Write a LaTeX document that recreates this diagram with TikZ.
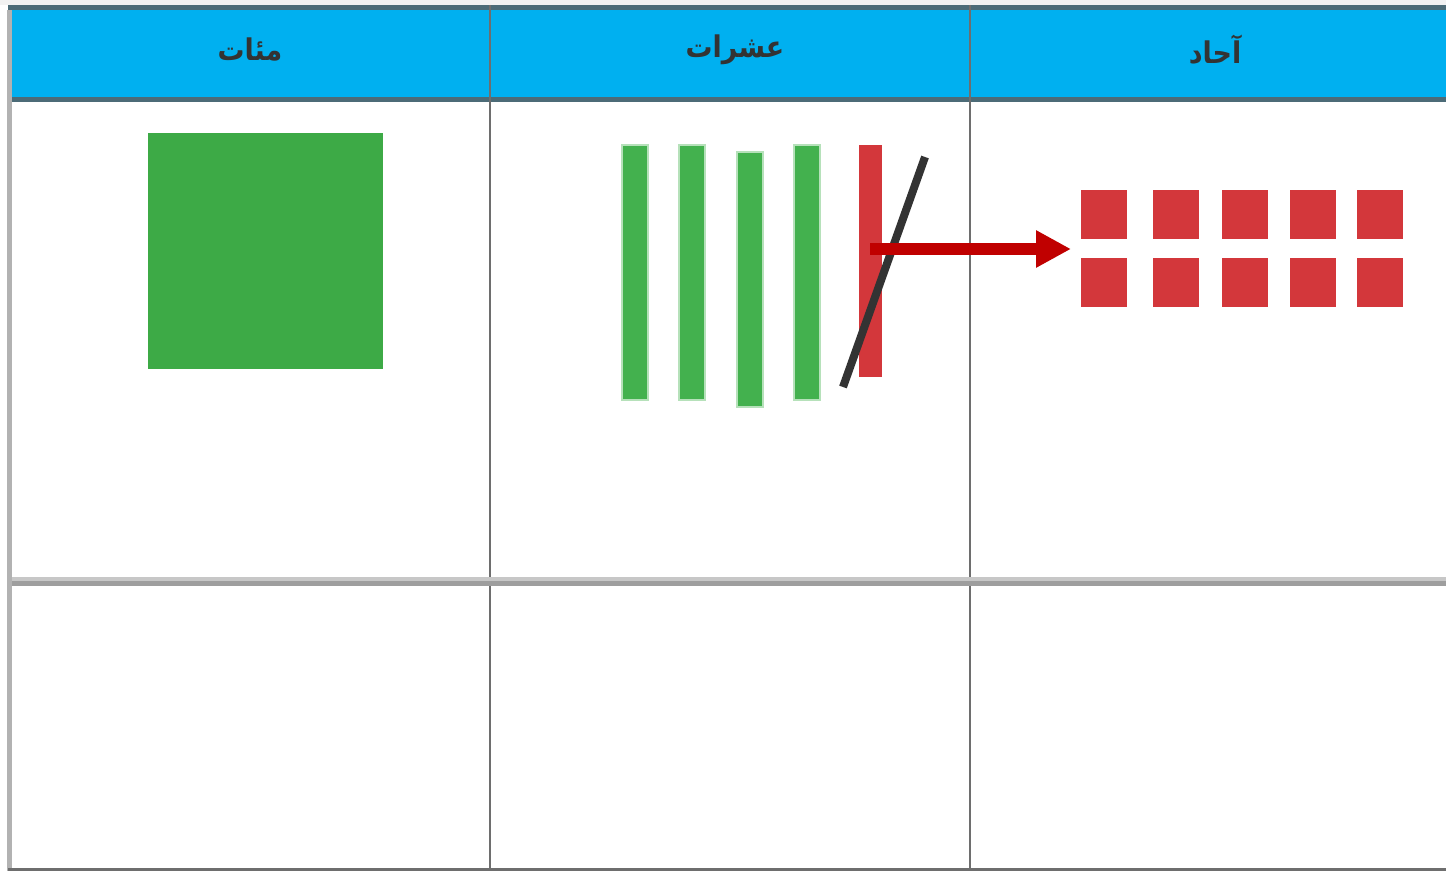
\documentclass[tikz,border=0pt]{standalone}
\usepackage{fontspec}
\newfontfamily\arabicfont[Script=Arabic]{DejaVu Sans}
\TeXXeTstate=1
\usepackage{xcolor}
\usetikzlibrary{
	arrows.meta,
	positioning,
	calc
}
\definecolor{headblue}{HTML}{00B0F0}
\definecolor{headline}{HTML}{4C6B77}
\definecolor{hundgreen}{HTML}{3DAA46}
\definecolor{tengreen}{HTML}{2EA83A}
\definecolor{onered}{HTML}{D3373B}
\definecolor{arrowred}{HTML}{C00000}
\definecolor{gridgray}{HTML}{6E6E6E}

\begin{document}
\begin{tikzpicture}[
 				x=0.02cm, y=-0.02cm,
 				header/.style={
 					inner sep=0pt, text=black!80, xscale=0.9,
 					font=\arabicfont\bfseries\fontsize{17}{20}\selectfont
 				},
 				tenbar/.style={
 					fill=tengreen!90!white, draw=tengreen!35!white, line width=1.2pt
 				},
 				unit/.style={
 					fill=onered
 				},
 				grid/.style={draw=gridgray, line width=0.6pt},
 				arrow/.style={-{Triangle[length=0.7cm, width=0.7cm]}, line width=0.24cm, arrowred},
 				]
 				\useasboundingbox (0,0) rectangle (1446,871);
 				\fill[white] (0,0) rectangle (1446,871);
 				\fill[black!5] (0,0) rectangle (1446,5);
 				
 				%header band
 				\fill[headblue] (10,7) rectangle (1446,100);
 				\fill[headline] (8,5) rectangle (1446,10);
 				\fill[headline] (8,97) rectangle (1446,102);
 				
 				\node[header] (hundreds) at (250,50) {\beginR مئات\endR};
 				\node[header] (tens) at (735,50) {\beginR عشرات\endR};
 				\node[header] (ones) at (1215,50) {\beginR آحاد\endR};
 				
 				%grid
 				\fill[black!30] (7,10) rectangle (12,871);
 				\draw[grid] (490,5) -- (490,871);
 				\draw[grid] (970,5) -- (970,871);
 				\fill[black!22] (12,577) rectangle (1446,581);
 				\fill[black!38] (12,581) rectangle (1446,586);
 				\draw[grid, line width=1.2pt] (8,869.5) -- (1446,869.5);
 				
 				%hundreds
 				\fill[hundgreen] (148,133) rectangle (383,369);
 				
 				%tens
 				\foreach \x/\y in {622/145, 679/145, 737/152, 794/145}
 					\filldraw[tenbar] (\x,\y) rectangle ++(26,255);
 				\fill[onered] (859,145) rectangle (882,377);
 				\coordinate (slashtop) at (925,157);
 				\coordinate (slashbot) at (843,387);
 				\draw[black!80, line width=0.16cm] (slashtop) -- (slashbot);
 				
 				%ones
 				\foreach \x in {1081, 1153, 1222, 1290, 1357}{
 					\fill[unit] (\x,190) rectangle ++(46,49);
 					\fill[unit] (\x,258) rectangle ++(46,49);
 				}
 				\coordinate (from) at (870,249);
 				\coordinate (to) at (1071,249);
 				\draw[arrow] (from) -- (to);
 			\end{tikzpicture}
\end{document}
